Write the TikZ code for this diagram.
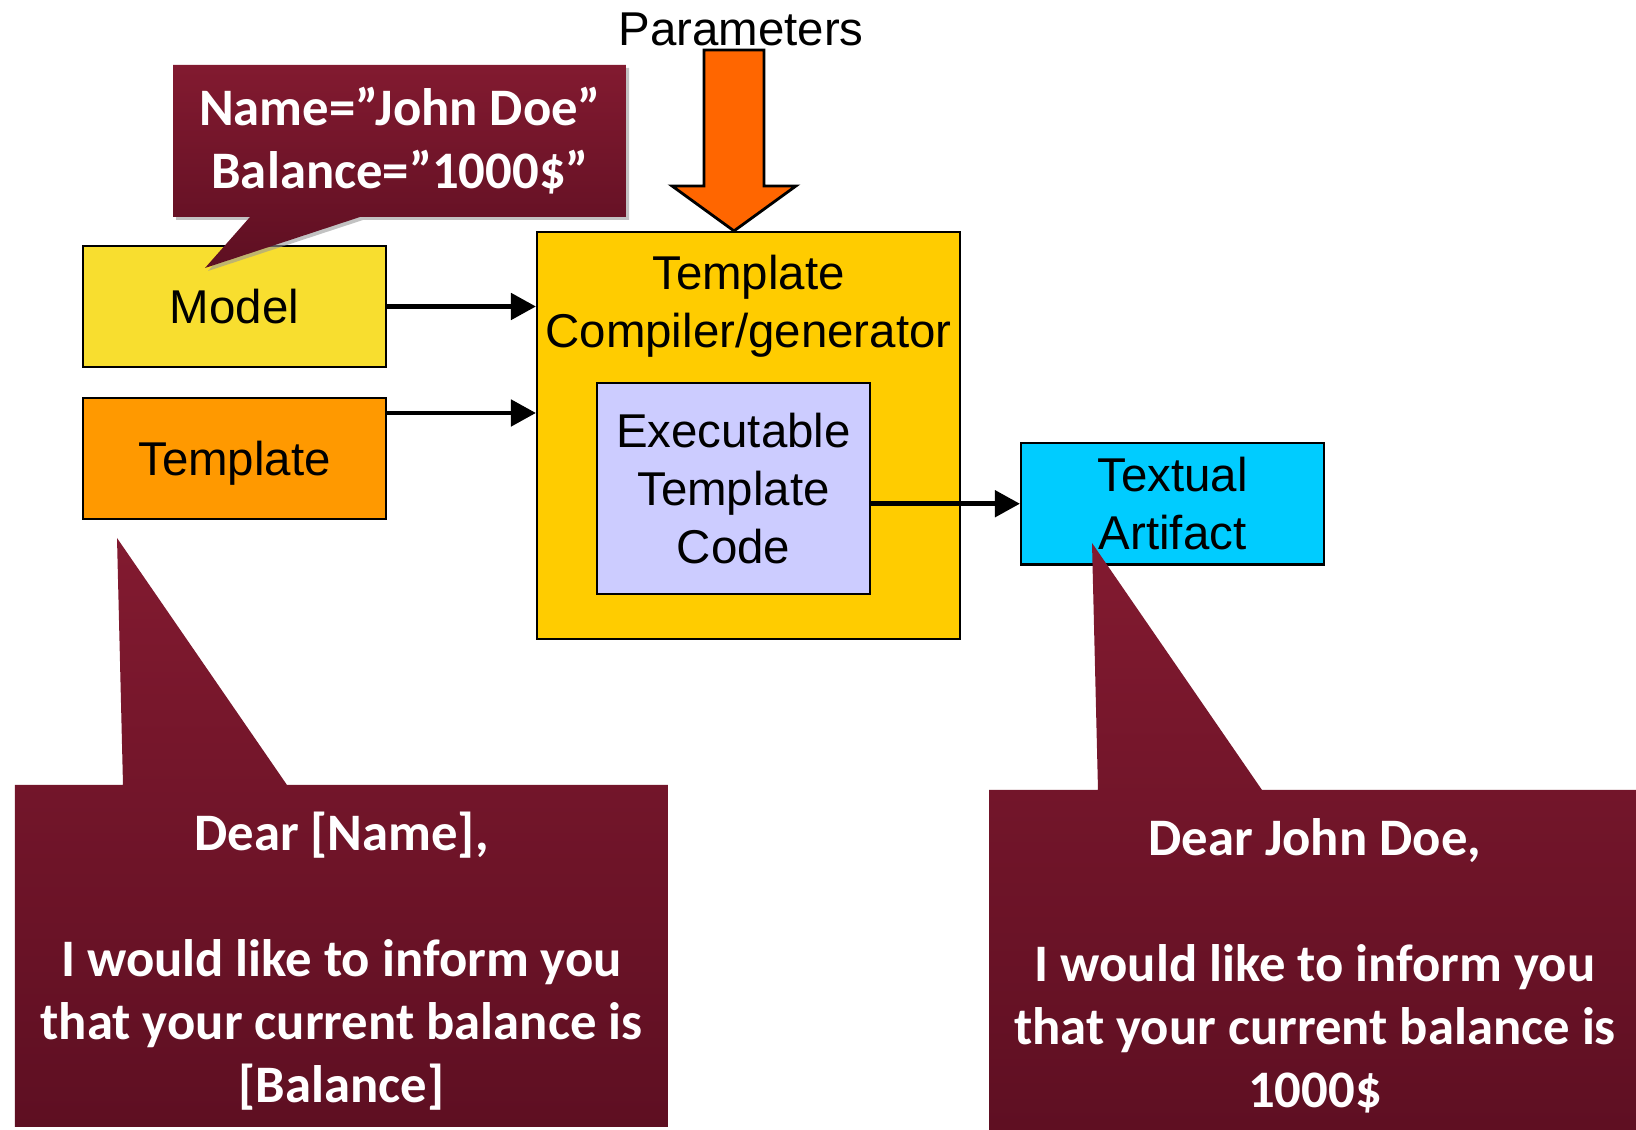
\documentclass[tikz,border=0pt]{standalone}
\usepackage{fontspec}
\setmainfont{Liberation Sans}
\newfontfamily\calibri{Carlito}
\usetikzlibrary{arrows.meta,shadows}
\definecolor{modelyellow}{RGB}{248,222,47}
\definecolor{tplorange}{RGB}{255,153,0}
\definecolor{gengold}{RGB}{255,204,0}
\definecolor{codelilac}{RGB}{204,204,255}
\definecolor{textcyan}{RGB}{0,204,255}
\definecolor{paramorange}{RGB}{255,102,0}
\definecolor{bubbletop}{RGB}{130,26,48}
\definecolor{bubblebot}{RGB}{94,15,34}
\begin{document}
\begin{tikzpicture}[auto,
    block/.style ={rectangle, draw, line width=0.6pt, inner sep=0pt, align=center, font=\fontsize{13.5}{16.5}\selectfont},
    bubble/.style ={top color=bubbletop, bottom color=bubblebot},
    bubbletext/.style ={text=white, align=center, font=\calibri\bfseries\fontsize{15}{17.9}\selectfont},
    feed/.style ={line width=1.4pt, -{Triangle[length=0.25cm,width=0.26cm]}}]
   \useasboundingbox (0,0) rectangle (16.36,-11.30);
   % boxes
   \node[block, fill=modelyellow, minimum width=3.03cm, minimum height=1.21cm] (M) at (2.345,-3.065) {Model};
   \node[block, fill=tplorange, minimum width=3.03cm, minimum height=1.21cm, text depth=0pt] (T) at (2.345,-4.585) {Template};
   \node[block, fill=gengold, minimum width=4.23cm, minimum height=4.07cm] (C) at (7.485,-4.355) {};
   \node[align=center, font=\fontsize{13.5}{16.5}\selectfont] (Ct) at (7.485,-3.06) {Template\\Compiler/generator};
   \node[block, fill=codelilac, minimum width=2.73cm, minimum height=2.11cm] (E) at (7.335,-4.885) {Executable\\Template\\Code};
   \node[block, fill=textcyan, minimum width=3.03cm, minimum height=1.215cm] (A) at (11.725,-5.0375) {Textual\\Artifact};
   \draw[feed] (M.east) -- (M.east -| C.west);
   \draw[feed] ([yshift=0.455cm]T.east) -- ([yshift=0.455cm]T.east -| C.west);
   \draw[feed] (E.east |- A.west) -- (A.west);
   % parameters
   \node[font=\fontsize{13.5}{16.5}\selectfont] (P) at (7.41,-0.29) {Parameters};
   \coordinate (tip) at ([xshift=-0.145cm]C.north);
   \filldraw[fill=paramorange, line width=0.8pt] (tip) -- ++(-0.62,0.45) -- ++(0.32,0) -- ++(0,1.36)
      -- ++(0.60,0) -- ++(0,-1.36) -- ++(0.32,0) -- cycle;
   % callouts
   \path[bubble, drop shadow={shadow xshift=0.03cm, shadow yshift=-0.03cm, fill=black!40, opacity=0.6}]
      (1.73,-0.65) -- (6.26,-0.65) -- (6.26,-2.17) -- (3.60,-2.17) -- (2.05,-2.68) -- (2.50,-2.17) -- (1.73,-2.17) -- cycle;
   \path[bubble] (0.15,-7.85) -- (1.23,-7.85) -- (1.17,-5.38) -- (2.87,-7.85) -- (6.68,-7.85) -- (6.68,-11.27) -- (0.15,-11.27) -- cycle;
   \path[bubble] (9.89,-7.90) -- (10.98,-7.90) -- (10.92,-5.43) -- (12.62,-7.90) -- (16.40,-7.90) -- (16.40,-11.40) -- (9.89,-11.40) -- cycle;
   \node[bubbletext] (N) at (4.0,-1.41) {Name=”John Doe”\\Balance=”1000\$”};
   \node[bubbletext] (L) at (3.415,-9.61) {Dear [Name],\\[17.9pt]I would like to inform you\\that your current balance is\\{[Balance]}};
   \node[bubbletext] (R) at (13.15,-9.66) {Dear John Doe,\\[17.9pt]I would like to inform you\\that your current balance is\\1000\$};
\end{tikzpicture}
\end{document}
